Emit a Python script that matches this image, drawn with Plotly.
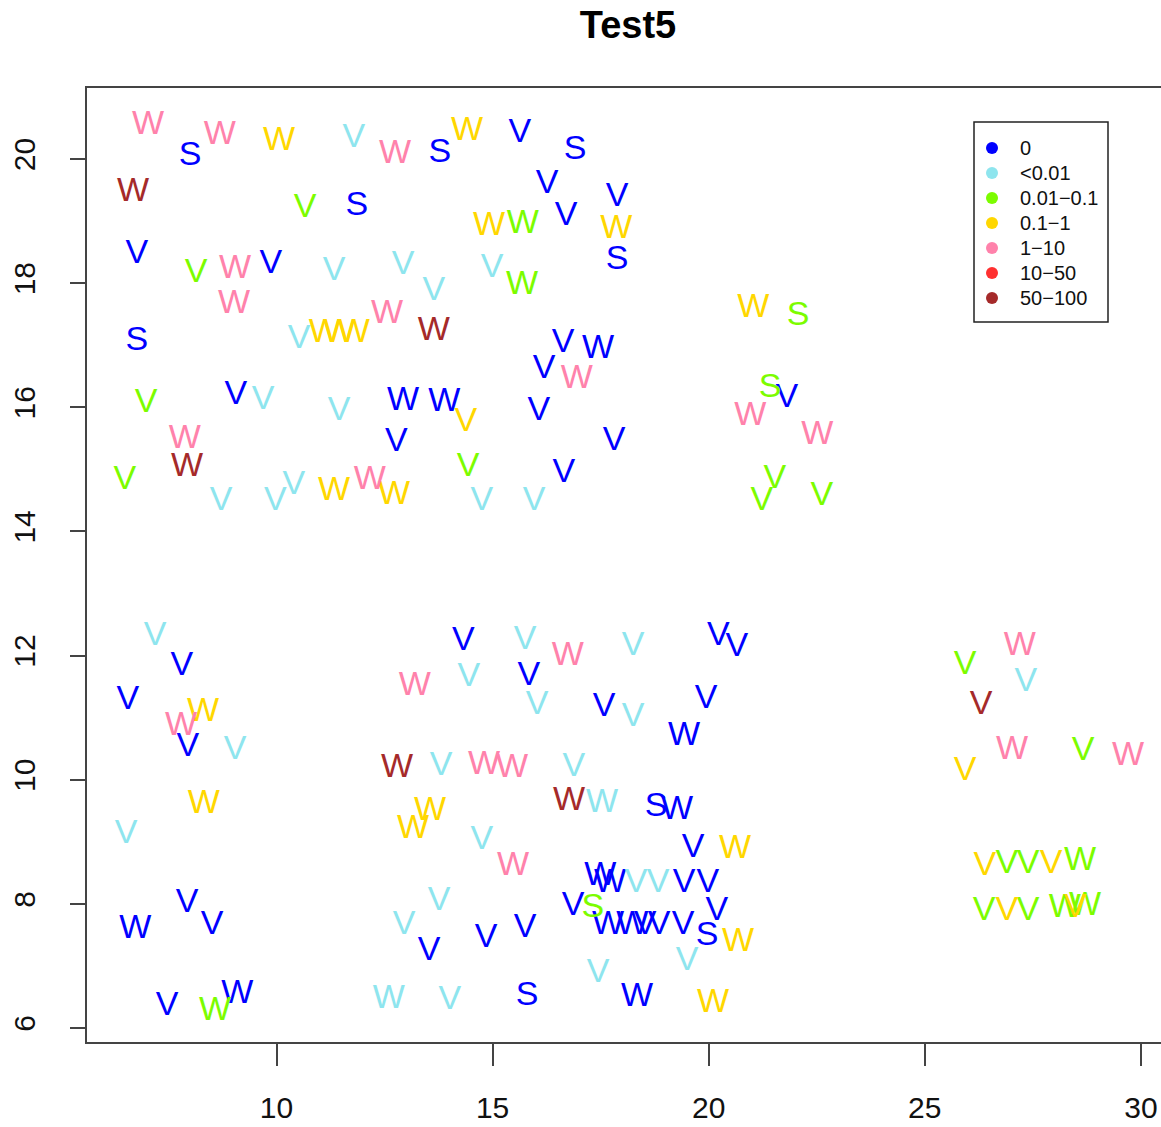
import plotly.graph_objects as go

# Concentration classes used for colouring the letters
class_labels = ["0", "<0.01", "0.01\u22120.1", "0.1\u22121", "1\u221210", "10\u221250", "50\u2212100"]
class_colors = ["#0000FF", "#8EE5EE", "#7CFC00", "#FFD700", "#FF82AB", "#FF3030", "#A52A2A"]

# Observations: position, letter code and concentration class (index into class_labels)
x_vals = [
    7.03, 8.00, 8.69, 10.06, 11.79, 12.74, 13.78, 6.68, 10.66, 11.86,
    6.77, 8.14, 9.04, 9.87, 11.33, 12.93, 13.64, 9.02, 12.56, 13.64,
    10.52, 11.12, 11.45, 11.79, 6.77, 6.98, 9.06, 9.69, 11.45, 12.93,
    13.88, 14.41, 15.63, 16.91, 16.26, 16.70, 17.88, 14.92, 15.70, 17.86,
    17.88, 14.99, 15.68, 21.03, 22.07, 16.63, 17.44, 16.19, 16.95, 21.42,
    21.81, 20.96, 16.07, 14.38, 7.88, 12.77, 7.93, 6.49, 8.72, 9.97,
    10.40, 11.33, 12.16, 12.72, 17.81, 14.43, 16.65, 14.75, 15.96, 22.51,
    21.53, 21.23, 22.62, 7.19, 7.81, 6.56, 8.30, 7.79, 7.95, 9.04,
    8.32, 6.52, 13.20, 12.79, 13.81, 13.55, 13.16, 14.32, 15.75, 16.74,
    18.25, 20.22, 20.65, 14.45, 15.84, 16.03, 17.58, 18.25, 19.94, 19.43,
    14.80, 15.45, 16.88, 16.77, 17.53, 18.78, 19.27, 7.93, 6.73, 8.51,
    13.76, 12.95, 13.53, 7.47, 8.58, 9.09, 12.60, 14.01, 14.75, 15.47,
    19.64, 20.61, 14.85, 15.75, 16.86, 17.32, 17.49, 17.72, 18.32, 18.83,
    19.43, 19.98, 17.67, 18.23, 18.53, 18.85, 19.41, 20.19, 19.96, 20.68,
    17.44, 19.50, 15.80, 18.34, 20.10, 25.93, 27.20, 27.34, 26.30, 27.02,
    25.93, 28.66, 29.70, 26.39, 26.90, 27.39, 27.92, 28.59, 26.37, 26.90,
    27.39, 28.24, 28.48, 28.71,
]
y_vals = [
    20.54, 20.04, 20.38, 20.29, 20.33, 20.07, 20.09, 19.46, 19.20, 19.23,
    18.46, 18.15, 18.22, 18.30, 18.18, 18.28, 17.86, 17.65, 17.49, 17.22,
    17.09, 17.19, 17.19, 17.19, 17.06, 16.06, 16.19, 16.11, 15.94, 16.09,
    16.07, 20.44, 20.41, 20.13, 19.59, 19.07, 19.38, 18.91, 18.94, 18.86,
    18.36, 18.23, 17.97, 17.59, 17.46, 17.02, 16.93, 16.61, 16.44, 16.30,
    16.14, 15.85, 15.93, 15.75, 15.48, 15.43, 15.03, 14.82, 14.49, 14.49,
    14.74, 14.64, 14.82, 14.58, 15.45, 15.03, 14.93, 14.49, 14.49, 15.54,
    14.83, 14.48, 14.56, 12.30, 11.82, 11.27, 11.08, 10.85, 10.52, 10.47,
    9.60, 9.11, 11.50, 10.18, 10.21, 9.48, 9.19, 12.22, 12.24, 11.98,
    12.14, 12.30, 12.13, 11.64, 11.66, 11.19, 11.16, 11.01, 11.30, 10.69,
    10.23, 10.18, 10.19, 9.65, 9.61, 9.56, 9.50, 8.00, 7.58, 7.65,
    8.03, 7.65, 7.23, 6.34, 6.26, 6.54, 6.46, 6.44, 9.02, 8.60,
    8.89, 8.87, 7.44, 7.60, 7.95, 7.92, 8.44, 8.32, 8.32, 8.32,
    8.32, 8.32, 7.65, 7.65, 7.65, 7.65, 7.65, 7.87, 7.47, 7.37,
    6.87, 7.07, 6.50, 6.49, 6.39, 11.84, 12.14, 11.56, 11.19, 10.47,
    10.14, 10.45, 10.37, 8.60, 8.63, 8.63, 8.63, 8.68, 7.87, 7.87,
    7.87, 7.92, 7.92, 7.95,
]
letters = [
    "W", "S", "W", "W", "V", "W", "S", "W", "V", "S",
    "V", "V", "W", "V", "V", "V", "V", "W", "W", "W",
    "V", "W", "W", "W", "S", "V", "V", "V", "V", "W",
    "W", "W", "V", "S", "V", "V", "V", "W", "W", "W",
    "S", "V", "W", "W", "S", "V", "W", "V", "W", "S",
    "V", "W", "V", "V", "W", "V", "W", "V", "V", "V",
    "V", "W", "W", "W", "V", "V", "V", "V", "V", "W",
    "V", "V", "V", "V", "V", "V", "W", "W", "V", "V",
    "W", "V", "W", "W", "V", "W", "W", "V", "V", "W",
    "V", "V", "V", "V", "V", "V", "V", "V", "V", "W",
    "W", "W", "V", "W", "W", "S", "W", "V", "W", "V",
    "V", "V", "V", "V", "W", "W", "W", "V", "V", "W",
    "V", "W", "V", "V", "V", "S", "W", "W", "V", "V",
    "V", "V", "W", "W", "V", "V", "V", "V", "S", "W",
    "V", "V", "S", "W", "W", "V", "W", "V", "V", "W",
    "V", "V", "W", "V", "V", "V", "V", "W", "V", "V",
    "V", "W", "V", "W",
]
classes = [
    4, 0, 4, 3, 1, 4, 0, 6, 2, 0,
    0, 2, 4, 0, 1, 1, 1, 4, 4, 6,
    1, 3, 3, 3, 0, 2, 0, 1, 1, 0,
    0, 3, 0, 0, 0, 0, 0, 3, 2, 3,
    0, 1, 2, 3, 2, 0, 0, 0, 4, 2,
    0, 4, 0, 3, 4, 0, 6, 2, 1, 1,
    1, 3, 4, 3, 0, 2, 0, 1, 1, 4,
    2, 2, 2, 1, 0, 0, 3, 4, 0, 1,
    3, 1, 4, 6, 1, 3, 3, 0, 1, 4,
    1, 0, 0, 1, 0, 1, 0, 1, 0, 0,
    4, 4, 1, 6, 1, 0, 0, 0, 0, 0,
    1, 1, 0, 0, 2, 0, 1, 1, 1, 4,
    0, 3, 0, 0, 0, 2, 0, 0, 1, 1,
    0, 0, 0, 0, 0, 0, 0, 0, 0, 3,
    1, 1, 0, 0, 3, 2, 4, 1, 6, 4,
    3, 2, 4, 3, 2, 2, 3, 2, 2, 3,
    2, 2, 3, 2,
]

W_FIG, H_FIG = 1161, 1127
M_L, M_R, M_T, M_B = 87, 0, 88, 85
PW, PH = W_FIG - M_L - M_R, H_FIG - M_T - M_B
FONT = "Liberation Sans, Arial, sans-serif"

fig = go.Figure()

# one text-mark trace per concentration class
for ci, color in enumerate(class_colors):
    idx = [i for i, c in enumerate(classes) if c == ci]
    if not idx:
        continue
    fig.add_trace(go.Scatter(
        x=[x_vals[i] for i in idx],
        y=[y_vals[i] for i in idx],
        text=[letters[i] for i in idx],
        mode="text",
        textposition="middle center",
        textfont=dict(family=FONT, size=34, color=color),
        showlegend=False,
        hoverinfo="x+y+text",
    ))


def px_x(p):
    return (p - M_L) / PW


def px_y(p):
    return 1 - (p - M_T) / PH


# legend box drawn in paper coordinates
shapes = [dict(type="rect", xref="paper", yref="paper",
               x0=px_x(974), x1=px_x(1108), y0=px_y(322), y1=px_y(122),
               line=dict(color="#222222", width=1.5), fillcolor="white", layer="above")]
annotations = []
r = 6
for k, (lab, col) in enumerate(zip(class_labels, class_colors)):
    cy = 148 + 25 * k
    shapes.append(dict(type="circle", xref="paper", yref="paper",
                       x0=px_x(992 - r), x1=px_x(992 + r), y0=px_y(cy + r), y1=px_y(cy - r),
                       line=dict(width=0), fillcolor=col, layer="above"))
    annotations.append(dict(xref="paper", yref="paper", x=px_x(1018), y=px_y(cy),
                            xanchor="left", yanchor="middle", text=lab, showarrow=False,
                            font=dict(family=FONT, size=20, color="#111111")))

axis_font = dict(family=FONT, size=30, color="#111111")

fig.update_layout(
    width=W_FIG, height=H_FIG,
    margin=dict(l=M_L, r=M_R, t=M_T, b=M_B, pad=0),
    paper_bgcolor="white", plot_bgcolor="white",
    title=dict(text="<b>Test5</b>", x=628 / W_FIG, xanchor="center", xref="container",
               y=1 - 25 / H_FIG, yanchor="middle", yref="container",
               font=dict(family=FONT, size=38, color="black")),
    shapes=shapes,
    annotations=annotations,
    xaxis=dict(range=[5.615, 30.465], tickvals=[10, 15, 20, 25, 30], showgrid=False, zeroline=False,
               showline=True, linecolor="#444444", linewidth=1.5, mirror=True,
               ticks="outside", ticklen=22, tickwidth=1.5, tickcolor="#444444",
               tickfont=axis_font, ticklabelstandoff=16),
    yaxis=dict(range=[5.774, 21.144], tickvals=[6, 8, 10, 12, 14, 16, 18, 20], showgrid=False, zeroline=False,
               showline=True, linecolor="#444444", linewidth=1.5, mirror=False,
               ticks="outside", ticklen=15, tickwidth=1.5, tickcolor="#444444",
               tickfont=axis_font, tickangle=-90, ticklabelstandoff=23),
)

fig.write_html("out.html")
